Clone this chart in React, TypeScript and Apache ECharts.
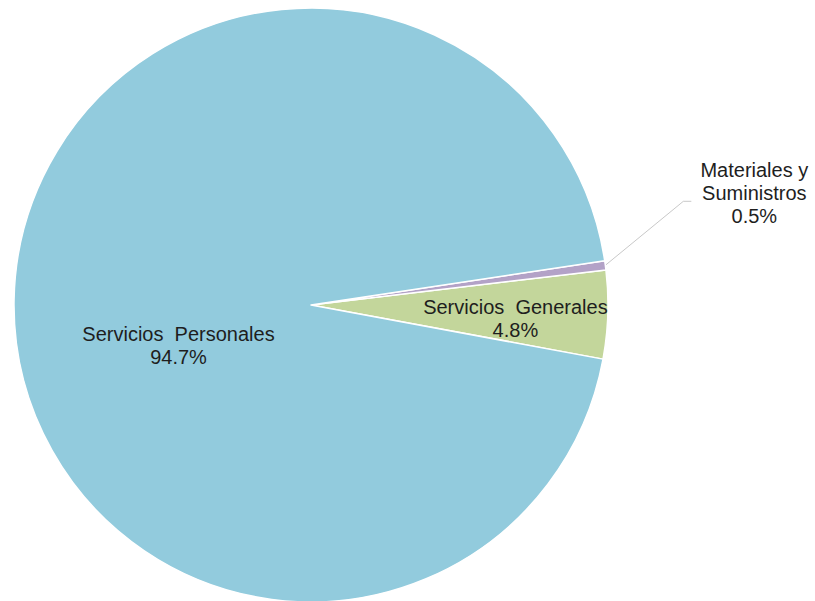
import React, { useEffect, useRef } from "react";
import * as echarts from "echarts";

const categories = ["Servicios Generales", "Materiales y Suministros", "Servicios Personales"];
const labelLines = [["Servicios  Generales"], ["Materiales y", "Suministros"], ["Servicios  Personales"]];
const values = [4.8, 0.5, 94.7];
const colors = ["#C3D69B", "#B3A2C7", "#92CBDD"];

export default function App() {
  const ref = useRef<HTMLDivElement>(null);
  useEffect(() => {
    document.body.style.margin = "0";
    if (!ref.current) return;
    const chart = echarts.init(ref.current, undefined, { renderer: "svg" });
    const font = "'Liberation Sans', Arial, sans-serif";
    chart.setOption({
      animation: false,
      backgroundColor: "#ffffff",
      series: [
        {
          type: "pie",
          center: [311, 305],
          radius: [0, 297],
          startAngle: -10.5,
          clockwise: false,
          avoidLabelOverlap: false,
          itemStyle: { borderColor: "#ffffff", borderWidth: 1.5 },
          label: {
            fontFamily: font,
            fontSize: 20,
            lineHeight: 23,
            color: "#1e1e1e",
            align: "center",
            formatter: (p: any) =>
              [...labelLines[p.dataIndex], values[p.dataIndex].toFixed(1) + "%"].join("\n"),
          },
          labelLayout: (params: any) => {
            const i = params.dataIndex;
            if (i === 0) return { dx: 53, dy: 9 };
            if (i === 2) return { dx: 19, dy: 43 };
            const p0 = params.labelLinePoints ? params.labelLinePoints[0] : [606, 265];
            return {
              x: p0[0] + 149,
              y: p0[1] - 72,
              align: "center",
              verticalAlign: "middle",
              labelLinePoints: [
                [p0[0], p0[1]],
                [p0[0] + 78, p0[1] - 64],
                [p0[0] + 86, p0[1] - 64],
              ],
            };
          },
          data: categories.map((name, i) => ({
            name,
            value: values[i],
            itemStyle: { color: colors[i] },
            label: { position: i === 1 ? "outside" : "inside" },
            labelLine: {
              show: i === 1,
              length: 20,
              length2: 10,
              lineStyle: { color: "#c8c8c8", width: 1 },
            },
          })),
        },
      ],
    });
    return () => chart.dispose();
  }, []);
  return <div ref={ref} style={{ width: 815, height: 601 }} />;
}
